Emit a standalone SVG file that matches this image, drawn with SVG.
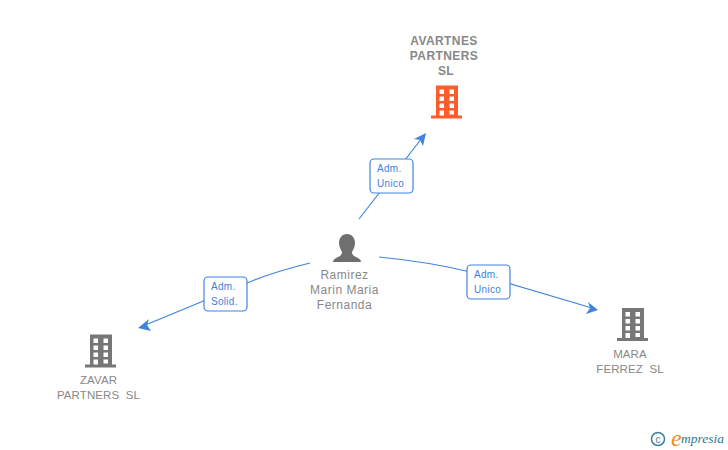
<svg xmlns="http://www.w3.org/2000/svg" width="728" height="450" viewBox="0 0 728 450">
<style>
.n{font:11.5px "Liberation Sans",Arial,sans-serif;fill:#888;text-anchor:middle;white-space:pre;letter-spacing:.1px}
.b{font-weight:bold;font-size:12px;letter-spacing:.4px}
.p{font-size:12px;letter-spacing:.5px}
.l{font:10px "Liberation Sans",Arial,sans-serif;fill:#3f7fdc;letter-spacing:.3px}
.c{fill:none;stroke:#3f84e0;stroke-width:1.2}
.a{fill:#3f84e0}
.box{fill:#fff;stroke:#3f84e0;stroke-width:1.2}
</style>
<defs>
<path id="bld" fill-rule="evenodd" d="M5 0H27V30H31V33H0V30H5ZM8.500 4V8.500H13V4ZM18.500 4V8.500H23V4ZM8.500 11V15.500H13V11ZM18.500 11V15.500H23V11ZM8.500 18V22.500H13V18ZM18.500 18V22.500H23V18ZM8.500 25V30H13V25ZM18.500 25V29H23V25Z"/>
</defs>
<g id="connectors">
<path class="c" d="M359 219L422 138"/>
<path class="a" d="M426 133L423 146L420 140L414 139Z"/>
<path class="c" d="M310 263Q270 273 247 283L143 326"/>
<path class="a" d="M138 328L149 319L147 325L151 331Z"/>
<path class="c" d="M379 257Q430 262 470 272L592 308"/>
<path class="a" d="M598 310L586 314L590 308L588 302Z"/>
</g>
<g id="node-avartnes">
<text class="n b"><tspan x="444" y="45">AVARTNES</tspan><tspan x="444" y="60">PARTNERS</tspan><tspan x="446" y="75">SL</tspan></text>
<use href="#bld" x="431" y="85.500" fill="#ff5c2b"/>
</g>
<g id="node-ramirez">
<path fill="#6f6f6f" d="M347 234C352 234 355 238 355 243C355 247 353 250 352 252C352 255 354 256 356 257C359 258 361 260 361 262H333C333 260 335 258 338 257C340 256 342 255 342 252C341 250 339 247 339 243C339 238 342 234 347 234Z"/>
<text class="n p"><tspan x="344.500" y="279">Ramirez</tspan><tspan x="344.500" y="294">Marin Maria</tspan><tspan x="344.500" y="309">Fernanda</tspan></text>
</g>
<g id="node-zavar">
<use href="#bld" x="85" y="334.500" fill="#777"/>
<text class="n"><tspan x="98.500" y="384">ZAVAR</tspan><tspan x="98.500" y="399">PARTNERS  SL</tspan></text>
</g>
<g id="node-mara">
<use href="#bld" x="617" y="308" fill="#777"/>
<text class="n"><tspan x="630" y="358">MARA</tspan><tspan x="630" y="373">FERREZ  SL</tspan></text>
</g>
<g id="label-1"><rect class="box" x="370" y="159" width="43" height="34" rx="4"/><text class="l"><tspan x="377" y="172">Adm.</tspan><tspan x="377" y="187">Unico</tspan></text></g>
<g id="label-2"><rect class="box" x="204" y="277" width="43" height="34" rx="4"/><text class="l"><tspan x="211" y="290">Adm.</tspan><tspan x="211" y="305">Solid.</tspan></text></g>
<g id="label-3"><rect class="box" x="467" y="265" width="43" height="34" rx="4"/><text class="l"><tspan x="474" y="278">Adm.</tspan><tspan x="474" y="293">Unico</tspan></text></g>
<g id="logo">
<circle cx="658" cy="439" r="6.500" fill="none" stroke="#3d7f96" stroke-width="1.5"/>
<text x="658" y="442.500" font-family="Liberation Sans,sans-serif" font-size="10" fill="#3d7f96" text-anchor="middle">c</text>
<text x="671" y="446" font-family="Liberation Serif,serif" font-style="italic" font-size="24" fill="#f28a1c">e</text>
<text x="681" y="443" font-family="Liberation Serif,serif" font-style="italic" font-size="13.500" fill="#2f7a8c">mpresia</text>
</g>
</svg>
